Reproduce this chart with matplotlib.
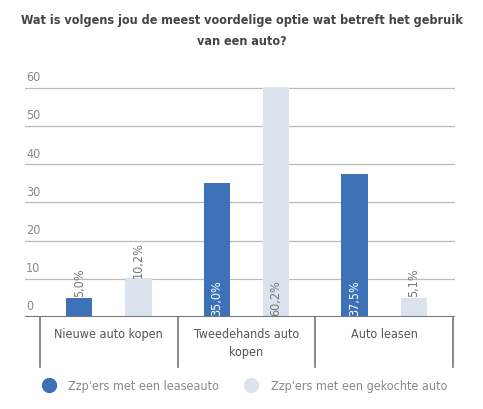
import matplotlib
matplotlib.use("Agg")
import matplotlib.pyplot as plt
from matplotlib.lines import Line2D

categories = ["Nieuwe auto kopen", "Tweedehands auto\nkopen", "Auto leasen"]
series_names = ["Zzp'ers met een leaseauto", "Zzp'ers met een gekochte auto"]
lease = [5.0, 35.0, 37.5]
bought = [10.2, 60.2, 5.1]
yticks = [0, 10, 20, 30, 40, 50, 60]

plt.rcParams['font.family'] = ['DejaVu Sans']
plt.rcParams['font.stretch'] = 'condensed'
blue = "#3d71b8"
light = "#dbe3ee"
grey = "#777777"

fig = plt.figure(figsize=(4.83, 4.10), dpi=100)
ax = fig.add_axes([0.0518, 0.2244, 0.8902, 0.5683])
ax.set_xlim(-0.609, 2.515)
ax.set_ylim(0, 61)
for y in yticks:
    ax.axhline(y, color="#bbbbbb", lw=0.9, zorder=0)
    ax.text(-0.6, y + 1.2, str(y), color="#888888", fontsize=9, va="bottom", ha="left")
ax.axhline(0, color="#777777", lw=1.5, zorder=3)

w = 0.19
off = 0.215
for vals, dx, col, tcol in [(lease, -off, blue, "white"), (bought, off, light, grey)]:
    xs = [i + dx for i in range(len(categories))]
    ax.bar(xs, vals, width=w, color=col, zorder=2)
    for x, v in zip(xs, vals):
        lab = f"{v:.1f}%".replace(".", ",")
        if v > 11:
            ax.text(x, 0.6, lab, rotation=90, ha="center", va="bottom", color=tcol, fontsize=9, zorder=4)
        else:
            ax.text(x, v + 0.4, lab, rotation=90, ha="center", va="bottom", color=grey, fontsize=9, zorder=4)

for b in [-0.5, 0.5, 1.5, 2.5]:
    ax.plot([b, b], [0, -13], color="#777777", lw=1.2, clip_on=False)
for i, c in enumerate(categories):
    ax.text(i, -2.5, c, ha="center", va="top", color="#555555", fontsize=9, linespacing=1.5)

for s in ax.spines.values():
    s.set_visible(False)
ax.set_xticks([]); ax.set_yticks([])

fig.text(0.5, 0.965, "Wat is volgens jou de meest voordelige optie wat betreft het gebruik\nvan een auto?",
         ha="center", va="top", fontsize=9, fontweight="bold", color="#444444",
         linespacing=1.8)

handles = [Line2D([], [], marker="o", ls="", ms=10, color=blue),
           Line2D([], [], marker="o", ls="", ms=10, color=light)]
fig.legend(handles, series_names, loc="center", bbox_to_anchor=(0.5, 0.057), ncol=2,
           frameon=False, fontsize=9, labelcolor="#888888", handletextpad=0.6, columnspacing=1.5)

fig.savefig("out.png", dpi=100)
